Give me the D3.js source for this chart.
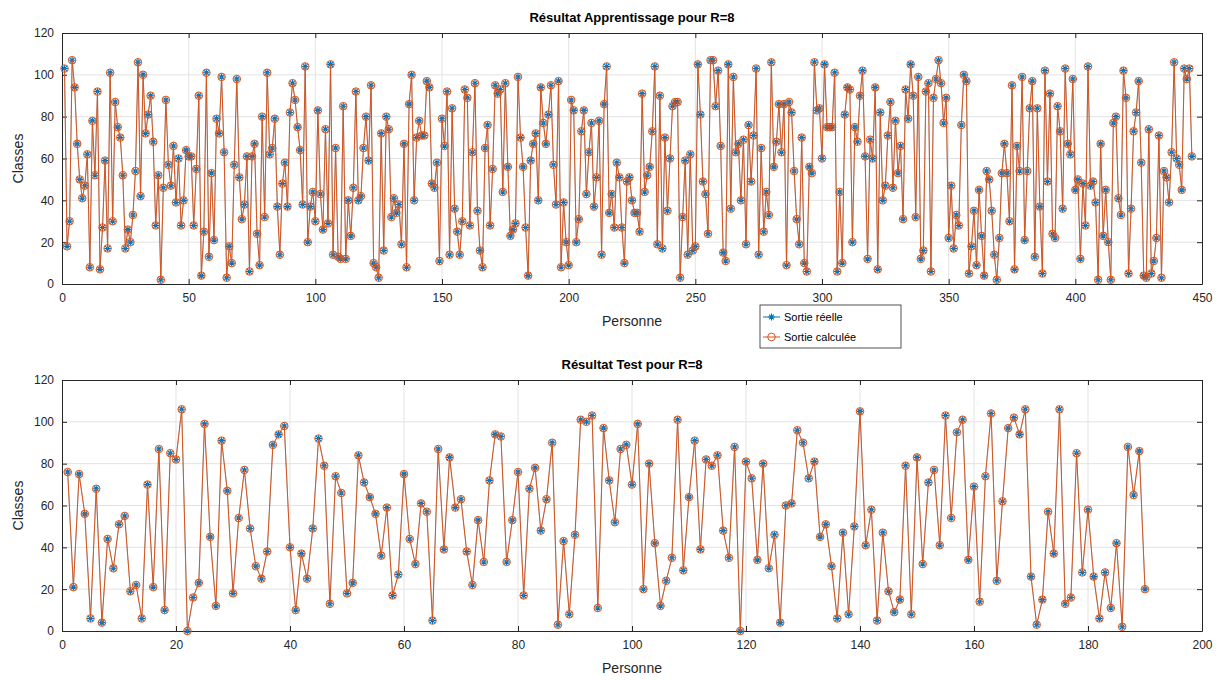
<!DOCTYPE html>
<html>
<head>
<meta charset="utf-8">
<script src="https://cdn.jsdelivr.net/npm/d3@7"></script>
<style>
  body { margin: 0; background: #fff; }
  svg { font-family: "Liberation Sans", Arial, Helvetica, sans-serif; }
</style>
</head>
<body>
<svg id="svg"></svg>
<script>
// values (Classes per Personne)
const apprValues = [103,18,30,107,94,67,50,41,47,62,
  8,78,52,92,7,27,59,17,101,30,
  87,75,70,52,17,26,20,33,54,106,
  42,100,72,81,90,68,28,52,2,46,
  88,57,47,66,39,60,28,40,64,61,
  61,28,55,90,4,25,101,13,53,21,
  79,72,99,63,3,18,10,57,98,51,
  31,38,61,6,61,67,24,9,80,32,
  101,62,65,79,37,14,48,58,37,82,
  96,88,75,64,38,104,20,37,44,30,
  83,43,26,74,29,105,14,65,13,12,
  85,12,40,23,46,92,40,42,65,80,
  59,95,10,8,3,72,16,80,74,32,
  41,34,38,19,67,8,86,100,40,70,
  78,71,71,97,94,48,46,58,11,79,
  66,92,14,84,36,25,14,30,93,89,
  28,63,96,35,16,8,65,76,28,55,
  95,91,93,44,96,56,23,26,29,99,
  70,56,27,4,59,67,72,40,94,77,
  67,81,95,57,38,97,8,39,20,9,
  88,83,20,31,73,83,43,63,77,37,
  51,78,14,86,104,34,43,27,58,51,
  27,10,49,51,40,34,34,25,91,44,
  52,56,73,104,19,90,17,70,35,60,
  85,87,87,3,32,59,14,62,16,18,
  105,81,49,43,24,107,107,85,102,66,
  15,11,105,36,99,63,67,40,69,19,
  76,49,71,103,14,65,25,44,33,106,
  56,68,86,63,86,9,87,82,54,31,
  19,70,10,6,56,53,106,83,84,60,
  105,75,75,75,101,6,44,10,81,94,
  93,20,75,68,90,102,61,12,69,60,
  94,7,82,40,47,71,87,46,78,53,
  66,31,93,79,105,90,32,99,12,16,
  92,96,6,89,98,107,96,77,89,22,
  47,17,33,28,76,100,97,5,18,35,
  9,45,23,4,54,50,35,14,2,22,
  53,67,53,30,95,7,66,54,99,21,
  54,84,97,13,84,37,5,102,49,91,
  24,22,85,73,36,103,67,62,98,45,
  50,12,48,28,104,47,49,39,2,67,
  23,45,20,2,77,80,41,33,102,89,
  5,36,73,82,97,58,4,3,74,5,
  11,22,71,3,54,51,39,63,106,60,
  57,45,103,98,103,61];

const testValues = [76,21,75,56,6,68,4,44,30,51,
  55,19,22,6,70,21,87,10,85,82,
  106,0,16,23,99,45,12,91,67,18,
  54,77,49,31,25,38,89,94,98,40,
  10,37,25,49,92,79,13,74,66,18,
  23,84,71,64,56,36,59,17,27,75,
  44,32,61,57,5,87,39,83,59,63,
  38,22,53,33,72,94,93,33,53,76,
  17,68,78,48,63,90,3,43,8,46,
  101,100,103,11,97,72,52,87,89,70,
  99,20,80,42,12,24,35,101,29,64,
  91,39,82,79,84,48,35,88,0,81,
  73,34,80,30,46,4,60,61,96,90,
  73,81,45,51,31,6,47,8,50,105,
  41,58,5,47,19,9,15,79,8,83,
  32,71,77,41,103,54,95,101,34,69,
  14,74,104,24,62,97,102,94,106,26,
  3,15,57,37,106,13,16,85,28,58,
  26,6,28,11,42,2,88,65,86,20];

const yTicks = [0, 20, 40, 60, 80, 100, 120];
const apprXTicks = [0, 50, 100, 150, 200, 250, 300, 350, 400, 450];
const testXTicks = [0, 20, 40, 60, 80, 100, 120, 140, 160, 180, 200];
const legendLabels = ["Sortie réelle", "Sortie calculée"];

var width = 1224;
var height = 680;
const blue = "#0072BD";
const orange = "#D95319";
const axisColor = "#262626";

var svg = d3.select("#svg")
    .attr("width", width)
    .attr("height", height);

svg.append("rect").attr("width", width).attr("height", height).attr("fill", "#fff");

// asterisk marker (+ and x together)
function star(s) {
  const k = s * 0.7;
  return `M${-s},0H${s}M0,${-s}V${s}M${-k},${-k}L${k},${k}M${-k},${k}L${k},${-k}`;
}

function drawPanel(opts) {
  const x = d3.scaleLinear().domain(opts.xDomain).range([62, 1202]);
  const y = d3.scaleLinear().domain([0, 120]).range([opts.bottom, opts.top]);
  const g = svg.append("g");

  // grid
  g.append("g").selectAll("line").data(opts.xTicks.slice(1, -1)).join("line")
      .attr("x1", d => x(d)).attr("x2", d => x(d))
      .attr("y1", opts.top).attr("y2", opts.bottom)
      .attr("stroke", "#e3e3e3").attr("stroke-width", 1);
  g.append("g").selectAll("line").data(yTicks.slice(1, -1)).join("line")
      .attr("x1", 62).attr("x2", 1202)
      .attr("y1", d => y(d)).attr("y2", d => y(d))
      .attr("stroke", "#e3e3e3").attr("stroke-width", 1);

  // axes with inward ticks on all four sides
  const fmt = d3.format("d");
  const axB = g.append("g").attr("transform", `translate(0,${opts.bottom})`)
      .call(d3.axisBottom(x).tickValues(opts.xTicks).tickFormat(fmt).tickSizeInner(-5).tickSizeOuter(0).tickPadding(9));
  const axT = g.append("g").attr("transform", `translate(0,${opts.top})`)
      .call(d3.axisTop(x).tickValues(opts.xTicks).tickFormat("").tickSizeInner(-5).tickSizeOuter(0));
  const axL = g.append("g").attr("transform", "translate(62,0)")
      .call(d3.axisLeft(y).tickValues(yTicks).tickFormat(fmt).tickSizeInner(-5).tickSizeOuter(0).tickPadding(8));
  const axR = g.append("g").attr("transform", "translate(1202,0)")
      .call(d3.axisRight(y).tickValues(yTicks).tickFormat("").tickSizeInner(-5).tickSizeOuter(0));
  [axB, axT, axL, axR].forEach(a => {
    a.select(".domain").attr("stroke", axisColor);
    a.selectAll(".tick line").attr("stroke", axisColor);
    a.selectAll("text").attr("fill", axisColor).attr("font-size", 12)
      .attr("font-family", "'Liberation Sans', Arial, sans-serif");
  });

  const pts = opts.values.map((v, i) => [i + 1, v]);
  const line = d3.line().x(d => x(d[0])).y(d => y(d[1]));

  // Sortie réelle (mostly hidden under the calculated output)
  g.append("path").datum(pts).attr("d", line)
      .attr("fill", "none").attr("stroke", blue).attr("stroke-width", 0.4);
  g.append("g").selectAll("path").data(pts).join("path")
      .attr("transform", d => `translate(${x(d[0])},${y(d[1])})`)
      .attr("d", star(3.4))
      .attr("fill", "none").attr("stroke", blue).attr("stroke-width", 1.1);

  // Sortie calculée
  g.append("path").datum(pts).attr("d", line)
      .attr("fill", "none").attr("stroke", orange).attr("stroke-width", 1);
  g.append("g").selectAll("circle").data(pts).join("circle")
      .attr("cx", d => x(d[0])).attr("cy", d => y(d[1])).attr("r", 3.8)
      .attr("fill", "none").attr("stroke", orange).attr("stroke-width", 1);

  // labels
  g.append("text").attr("x", 632).attr("y", opts.top - 11)
      .attr("text-anchor", "middle").attr("font-size", 13).attr("font-weight", "bold")
      .attr("fill", "#000").text(opts.title);
  g.append("text").attr("x", 632).attr("y", opts.bottom + 42)
      .attr("text-anchor", "middle").attr("font-size", 14)
      .attr("fill", axisColor).text("Personne");
  g.append("text")
      .attr("transform", `translate(23,${(opts.top + opts.bottom) / 2}) rotate(-90)`)
      .attr("text-anchor", "middle").attr("font-size", 14)
      .attr("fill", axisColor).text("Classes");
}

drawPanel({ title: "Résultat Apprentissage pour R=8", values: apprValues,
  xDomain: [0, 450], xTicks: apprXTicks, top: 33, bottom: 284 });
drawPanel({ title: "Résultat Test pour R=8", values: testValues,
  xDomain: [0, 200], xTicks: testXTicks, top: 380, bottom: 631 });

// legend
const leg = svg.append("g").attr("transform", "translate(760,305)");
leg.append("rect").attr("width", 141).attr("height", 43)
    .attr("fill", "#fff").attr("stroke", axisColor).attr("stroke-width", 0.8);
legendLabels.forEach((lab, i) => {
  const cy = 12 + i * 20;
  const col = i === 0 ? blue : orange;
  leg.append("line").attr("x1", 3).attr("x2", 20).attr("y1", cy).attr("y2", cy)
      .attr("stroke", col).attr("stroke-width", 1);
  if (i === 0) {
    leg.append("path").attr("transform", `translate(11.5,${cy})`).attr("d", star(3.4))
        .attr("fill", "none").attr("stroke", col).attr("stroke-width", 1.1);
  } else {
    leg.append("circle").attr("cx", 11.5).attr("cy", cy).attr("r", 3.8)
        .attr("fill", "none").attr("stroke", col);
  }
  leg.append("text").attr("x", 24).attr("y", cy + 4).attr("font-size", 11)
      .attr("fill", "#000").text(lab);
});
</script>
</body>
</html>
